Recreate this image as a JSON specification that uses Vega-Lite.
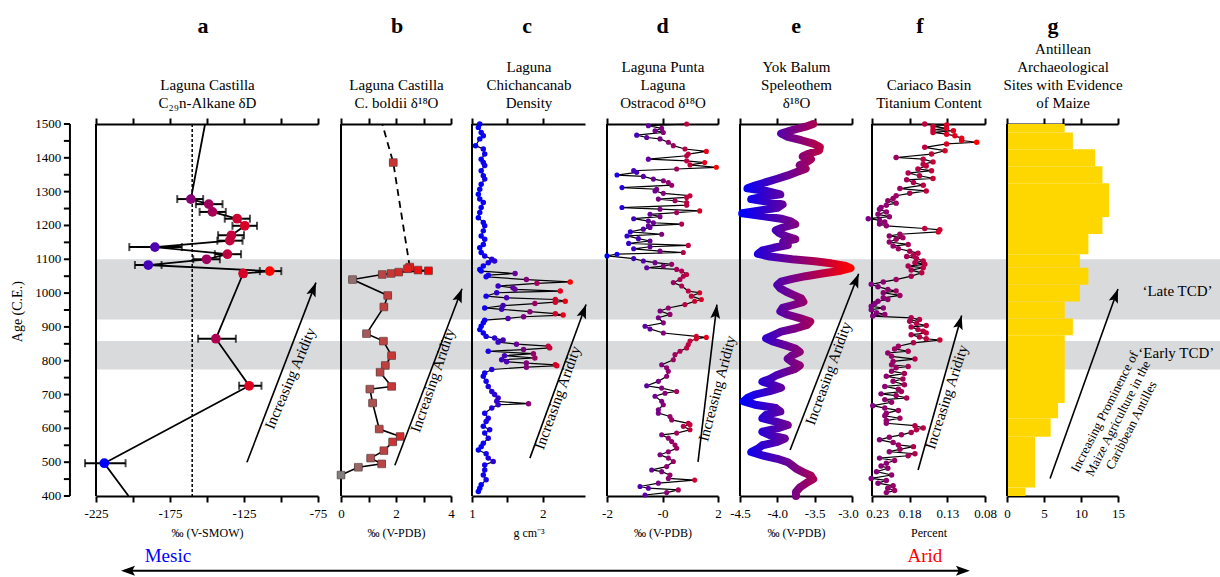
{
"$schema": "https://vega.github.io/schema/vega-lite/v6.json",
"width": 1124,
"height": 372,
"autosize": {"type": "none"},
"padding": {"left": 96, "top": 124, "right": 0, "bottom": 81},
"background": "white",
"config": {
  "view": {"stroke": null},
  "font": "Liberation Serif",
  "axis": {"grid": false, "domainColor": "black", "domainWidth": 2, "tickColor": "black", "tickWidth": 2, "tickSize": 6, "labelColor": "black", "labelFontSize": 13, "labelFlush": false, "labelOverlap": false, "titleColor": "black", "titleFontWeight": "normal", "labelFont": "Liberation Serif", "titleFont": "Liberation Serif"}
},
"datasets": {
  "one": [{}],
  "yt": [{"age":400},{"age":450},{"age":500},{"age":550},{"age":600},{"age":650},{"age":700},{"age":750},{"age":800},{"age":850},{"age":900},{"age":950},{"age":1000},{"age":1050},{"age":1100},{"age":1150},{"age":1200},{"age":1250},{"age":1300},{"age":1350},{"age":1400},{"age":1450},{"age":1500}],
  "bands": [{"age": 774, "age2": 858}, {"age": 922, "age2": 1100}],
  "a": [
    {"age":1500,"v":-151.3},
    {"age":1278,"v":-160.9,"lo":-170.1,"hi":-152.6},
    {"age":1263,"v":-148.8,"lo":-157.5,"hi":-139.5},
    {"age":1240,"v":-146.3,"lo":-155.0,"hi":-137.3},
    {"age":1220,"v":-129.6,"lo":-138.0,"hi":-121.0},
    {"age":1199,"v":-124.5,"lo":-132.8,"hi":-116.2},
    {"age":1171,"v":-133.5,"lo":-142.5,"hi":-125.0},
    {"age":1155,"v":-134.6,"lo":-143.0,"hi":-126.0},
    {"age":1136,"v":-185.2,"lo":-202.5,"hi":-167.0},
    {"age":1115,"v":-136.2,"lo":-144.7,"hi":-127.0},
    {"age":1100,"v":-150.3,"lo":-159.3,"hi":-141.3},
    {"age":1083,"v":-189.7,"lo":-198.7,"hi":-180.7},
    {"age":1065,"v":-107.6,"lo":-114.3,"hi":-99.8},
    {"age":1058,"v":-125.6,"lo":-127.5,"hi":-123.7},
    {"age":865,"v":-144.0,"lo":-156.0,"hi":-130.5},
    {"age":726,"v":-121.5,"lo":-128.3,"hi":-113.2},
    {"age":497,"v":-219.4,"lo":-232.4,"hi":-205.0},
    {"age":400,"v":-203.0}
  ],
  "b_dash": [{"age":1500,"v":1.5},{"age":1386,"v":1.9},{"age":1077,"v":2.5}],
  "b": [
    {"age":1386,"v":1.9,"lo":1.78,"hi":2.02},
    {"age":1077,"v":2.5,"lo":2.38,"hi":2.62},
    {"age":1072,"v":2.42,"lo":2.3,"hi":2.54},
    {"age":1068,"v":2.8,"lo":2.68,"hi":2.92},
    {"age":1066,"v":3.18,"lo":3.06,"hi":3.3},
    {"age":1062,"v":2.1,"lo":1.98,"hi":2.22},
    {"age":1058,"v":1.82,"lo":1.7,"hi":1.94},
    {"age":1055,"v":1.5,"lo":1.38,"hi":1.62},
    {"age":1040,"v":0.42,"lo":0.3,"hi":0.54},
    {"age":993,"v":1.7,"lo":1.58,"hi":1.82},
    {"age":959,"v":1.56,"lo":1.44,"hi":1.68},
    {"age":880,"v":0.93,"lo":0.81,"hi":1.05},
    {"age":858,"v":1.54,"lo":1.42,"hi":1.66},
    {"age":815,"v":1.84,"lo":1.72,"hi":1.96},
    {"age":786,"v":1.61,"lo":1.49,"hi":1.73},
    {"age":766,"v":1.42,"lo":1.3,"hi":1.54},
    {"age":724,"v":1.84,"lo":1.72,"hi":1.96},
    {"age":716,"v":1.05,"lo":0.93,"hi":1.17},
    {"age":675,"v":1.15,"lo":1.03,"hi":1.27},
    {"age":598,"v":1.39,"lo":1.27,"hi":1.51},
    {"age":576,"v":2.15,"lo":2.03,"hi":2.27},
    {"age":560,"v":1.88,"lo":1.76,"hi":2.0},
    {"age":534,"v":1.56,"lo":1.44,"hi":1.68},
    {"age":512,"v":1.08,"lo":0.96,"hi":1.2},
    {"age":495,"v":1.48,"lo":1.36,"hi":1.6},
    {"age":485,"v":0.63,"lo":0.51,"hi":0.75},
    {"age":462,"v":0.0,"lo":-0.1,"hi":0.12}
  ],
  "c": [
    {"age":1500,"v":1.11},{"age":1490,"v":1.09},{"age":1475,"v":1.13},{"age":1465,"v":1.16},{"age":1456,"v":1.11},{"age":1436,"v":1.05},{"age":1426,"v":1.16},{"age":1411,"v":1.18},{"age":1396,"v":1.13},{"age":1386,"v":1.16},{"age":1377,"v":1.18},{"age":1362,"v":1.13},{"age":1347,"v":1.16},{"age":1337,"v":1.18},{"age":1322,"v":1.13},{"age":1307,"v":1.11},{"age":1292,"v":1.09},{"age":1278,"v":1.11},{"age":1268,"v":1.16},{"age":1253,"v":1.13},{"age":1238,"v":1.11},{"age":1223,"v":1.09},{"age":1209,"v":1.16},{"age":1199,"v":1.18},{"age":1184,"v":1.16},{"age":1169,"v":1.13},{"age":1159,"v":1.18},{"age":1144,"v":1.16},{"age":1134,"v":1.11},{"age":1120,"v":1.13},{"age":1110,"v":1.18},
    {"age":1100,"v":1.28},{"age":1095,"v":1.32},{"age":1090,"v":1.23},{"age":1080,"v":1.16},{"age":1070,"v":1.11},{"age":1065,"v":1.13},{"age":1058,"v":1.61},{"age":1053,"v":1.23},{"age":1048,"v":1.2},{"age":1040,"v":1.77},{"age":1033,"v":2.39},{"age":1029,"v":1.92},{"age":1021,"v":1.37},{"age":1016,"v":1.58},{"age":1011,"v":1.61},{"age":1006,"v":2.25},{"age":1001,"v":1.35},{"age":991,"v":1.2},{"age":986,"v":1.49},{"age":981,"v":2.18},{"age":976,"v":2.32},{"age":973,"v":2.18},{"age":969,"v":1.89},{"age":963,"v":1.44},{"age":956,"v":1.18},{"age":952,"v":1.42},{"age":945,"v":1.82},{"age":939,"v":2.18},{"age":935,"v":2.29},{"age":930,"v":1.73},{"age":925,"v":1.51},{"age":920,"v":1.18},{"age":912,"v":1.16},{"age":902,"v":1.13},{"age":892,"v":1.11},{"age":882,"v":1.16},{"age":872,"v":1.2},{"age":867,"v":1.32},
    {"age":861,"v":1.44},{"age":855,"v":1.37},{"age":849,"v":1.63},{"age":843,"v":2.08},{"age":838,"v":2.1},{"age":833,"v":1.73},{"age":828,"v":1.23},{"age":821,"v":1.87},{"age":815,"v":1.46},{"age":808,"v":1.89},{"age":803,"v":1.42},{"age":797,"v":1.49},{"age":793,"v":1.77},{"age":788,"v":2.18},{"age":785,"v":2.2},{"age":781,"v":1.77},{"age":774,"v":1.28},{"age":764,"v":1.18},
    {"age":754,"v":1.16},{"age":739,"v":1.2},{"age":724,"v":1.23},{"age":709,"v":1.28},{"age":700,"v":1.32},{"age":690,"v":1.37},{"age":680,"v":1.35},{"age":673,"v":1.8},{"age":670,"v":1.37},{"age":660,"v":1.28},{"age":645,"v":1.18},{"age":630,"v":1.23},{"age":620,"v":1.2},{"age":606,"v":1.16},{"age":596,"v":1.25},{"age":586,"v":1.18},{"age":571,"v":1.23},{"age":556,"v":1.16},{"age":546,"v":1.13},{"age":536,"v":1.09},{"age":525,"v":1.2},{"age":512,"v":1.23},{"age":502,"v":1.3},{"age":492,"v":1.18},{"age":477,"v":1.18},{"age":462,"v":1.16},{"age":448,"v":1.2},{"age":433,"v":1.13},{"age":423,"v":1.11},{"age":413,"v":1.09}
  ],
  "d": [
    {"age":1500,"v":0.87},{"age":1495,"v":-0.51},{"age":1487,"v":-0.03},{"age":1480,"v":-0.27},{"age":1475,"v":0.03},{"age":1467,"v":-0.93},{"age":1460,"v":-0.57},{"age":1456,"v":-0.09},{"age":1446,"v":0.21},{"age":1436,"v":0.39},{"age":1426,"v":0.81},{"age":1419,"v":1.58},{"age":1411,"v":0.93},{"age":1406,"v":0.87},{"age":1396,"v":-0.51},{"age":1391,"v":0.87},{"age":1386,"v":1.52},{"age":1379,"v":0.99},{"age":1372,"v":1.94},{"age":1367,"v":0.51},{"age":1362,"v":-1.04},{"age":1357,"v":-0.93},{"age":1349,"v":-1.64},{"age":1345,"v":-0.69},{"age":1337,"v":-0.33},{"age":1332,"v":0.03},{"age":1327,"v":0.21},{"age":1319,"v":0.33},{"age":1312,"v":-1.46},{"age":1307,"v":-0.21},{"age":1302,"v":-0.27},{"age":1295,"v":0.03},{"age":1288,"v":0.99},{"age":1283,"v":0.87},{"age":1278,"v":-0.15},{"age":1273,"v":0.45},{"age":1268,"v":0.87},{"age":1260,"v":0.87},{"age":1253,"v":-1.46},{"age":1248,"v":-0.09},{"age":1243,"v":1.34},{"age":1238,"v":0.51},{"age":1233,"v":-0.45},{"age":1226,"v":-0.09},{"age":1220,"v":-1.04},{"age":1213,"v":-0.51},{"age":1208,"v":-0.33},{"age":1204,"v":0.69},{"age":1199,"v":-0.51},{"age":1194,"v":-0.45},{"age":1189,"v":-0.69},{"age":1181,"v":-1.16},{"age":1174,"v":-0.03},{"age":1169,"v":-1.28},{"age":1161,"v":-0.87},{"age":1154,"v":-0.45},{"age":1147,"v":-1.22},{"age":1141,"v":0.93},{"age":1137,"v":-0.45},{"age":1131,"v":-1.04},{"age":1124,"v":-0.09},{"age":1120,"v":0.75},{"age":1115,"v":-1.64},{"age":1110,"v":-2.0},{"age":1102,"v":-1.04},{"age":1095,"v":-0.69},{"age":1090,"v":-0.27},{"age":1085,"v":0.33},{"age":1080,"v":0.03},{"age":1075,"v":-0.57},{"age":1070,"v":0.51},{"age":1065,"v":0.69},{"age":1055,"v":0.87},{"age":1050,"v":0.75},{"age":1040,"v":0.63},{"age":1031,"v":0.39},{"age":1021,"v":0.69},{"age":1006,"v":0.93},{"age":1001,"v":1.34},{"age":991,"v":1.04},{"age":981,"v":1.4},{"age":976,"v":1.16},{"age":966,"v":0.81},{"age":956,"v":0.21},{"age":947,"v":-0.09},{"age":937,"v":0.27},{"age":927,"v":-0.15},{"age":912,"v":0.03},{"age":902,"v":-0.63},{"age":894,"v":-0.45},{"age":882,"v":0.03},{"age":872,"v":1.22},{"age":869,"v":1.58},{"age":865,"v":1.22},{"age":858,"v":0.99},{"age":848,"v":0.93},{"age":838,"v":0.87},{"age":828,"v":0.63},{"age":818,"v":0.45},{"age":803,"v":0.39},{"age":788,"v":-0.03},{"age":779,"v":0.15},{"age":769,"v":0.21},{"age":754,"v":0.15},{"age":739,"v":-0.15},{"age":726,"v":-0.57},{"age":719,"v":-0.03},{"age":709,"v":0.51},{"age":704,"v":0.09},{"age":695,"v":-0.27},{"age":680,"v":-0.03},{"age":670,"v":0.03},{"age":655,"v":-0.15},{"age":645,"v":-0.15},{"age":635,"v":0.27},{"age":625,"v":0.33},{"age":615,"v":0.93},{"age":611,"v":0.99},{"age":606,"v":0.75},{"age":596,"v":0.99},{"age":586,"v":0.51},{"age":581,"v":-0.03},{"age":571,"v":0.21},{"age":561,"v":0.33},{"age":551,"v":0.45},{"age":541,"v":0.51},{"age":531,"v":0.21},{"age":522,"v":-0.09},{"age":512,"v":0.21},{"age":502,"v":0.39},{"age":487,"v":0.15},{"age":477,"v":-0.39},{"age":472,"v":-0.03},{"age":462,"v":0.27},{"age":452,"v":0.21},{"age":447,"v":1.16},{"age":438,"v":-0.15},{"age":428,"v":-0.81},{"age":423,"v":-0.51},{"age":418,"v":0.57},{"age":410,"v":0.15},{"age":403,"v":-0.63}
  ],
  "e": [
    {"age":1500,"v":-3.52},{"age":1492,"v":-3.62},{"age":1482,"v":-3.8},{"age":1472,"v":-3.95},{"age":1462,"v":-3.86},{"age":1452,"v":-3.68},{"age":1442,"v":-3.52},{"age":1432,"v":-3.43},{"age":1422,"v":-3.44},{"age":1412,"v":-3.58},{"age":1404,"v":-3.66},{"age":1396,"v":-3.55},{"age":1388,"v":-3.6},{"age":1378,"v":-3.7},{"age":1368,"v":-3.62},{"age":1358,"v":-3.74},{"age":1348,"v":-3.86},{"age":1338,"v":-4.0},{"age":1328,"v":-4.15},{"age":1318,"v":-4.3},{"age":1310,"v":-4.4},{"age":1302,"v":-4.15},{"age":1292,"v":-3.96},{"age":1284,"v":-4.2},{"age":1278,"v":-4.35},{"age":1270,"v":-4.12},{"age":1262,"v":-3.93},{"age":1252,"v":-4.0},{"age":1244,"v":-4.25},{"age":1236,"v":-4.47},{"age":1228,"v":-4.2},{"age":1220,"v":-3.95},{"age":1212,"v":-3.82},{"age":1204,"v":-3.76},{"age":1196,"v":-3.9},{"age":1186,"v":-4.02},{"age":1178,"v":-3.98},{"age":1168,"v":-3.88},{"age":1160,"v":-3.76},{"age":1152,"v":-3.92},{"age":1142,"v":-3.86},{"age":1134,"v":-4.05},{"age":1126,"v":-4.2},{"age":1116,"v":-4.26},{"age":1108,"v":-4.1},{"age":1100,"v":-3.8},{"age":1094,"v":-3.5},{"age":1088,"v":-3.28},{"age":1080,"v":-3.08},{"age":1074,"v":-3.02},{"age":1066,"v":-3.15},{"age":1058,"v":-3.4},{"age":1050,"v":-3.62},{"age":1042,"v":-3.8},{"age":1034,"v":-3.95},{"age":1024,"v":-4.0},{"age":1014,"v":-3.96},{"age":1004,"v":-3.88},{"age":994,"v":-3.78},{"age":984,"v":-3.68},{"age":974,"v":-3.65},{"age":964,"v":-3.8},{"age":956,"v":-3.93},{"age":946,"v":-3.96},{"age":936,"v":-3.86},{"age":926,"v":-3.7},{"age":916,"v":-3.56},{"age":906,"v":-3.6},{"age":896,"v":-3.75},{"age":886,"v":-3.95},{"age":876,"v":-4.05},{"age":866,"v":-4.15},{"age":856,"v":-4.05},{"age":846,"v":-3.9},{"age":836,"v":-3.76},{"age":826,"v":-3.7},{"age":816,"v":-3.8},{"age":806,"v":-3.86},{"age":796,"v":-3.8},{"age":786,"v":-3.7},{"age":776,"v":-3.76},{"age":766,"v":-3.9},{"age":756,"v":-4.02},{"age":746,"v":-4.1},{"age":738,"v":-4.2},{"age":730,"v":-4.08},{"age":720,"v":-3.95},{"age":710,"v":-4.1},{"age":700,"v":-4.3},{"age":690,"v":-4.4},{"age":680,"v":-4.45},{"age":670,"v":-4.3},{"age":660,"v":-4.02},{"age":650,"v":-3.96},{"age":640,"v":-4.15},{"age":630,"v":-4.2},{"age":620,"v":-4.02},{"age":610,"v":-3.86},{"age":600,"v":-4.0},{"age":590,"v":-4.2},{"age":580,"v":-4.1},{"age":570,"v":-3.9},{"age":560,"v":-4.0},{"age":550,"v":-4.2},{"age":540,"v":-4.26},{"age":530,"v":-4.35},{"age":520,"v":-4.2},{"age":510,"v":-4.0},{"age":500,"v":-3.86},{"age":490,"v":-3.8},{"age":480,"v":-3.74},{"age":470,"v":-3.65},{"age":460,"v":-3.55},{"age":450,"v":-3.52},{"age":440,"v":-3.6},{"age":425,"v":-3.7},{"age":412,"v":-3.75},{"age":400,"v":-3.75}
  ],
  "f": [
    {"age":1500,"v":0.160},{"age":1497,"v":0.131},{"age":1493,"v":0.149},{"age":1487,"v":0.131},{"age":1483,"v":0.149},{"age":1480,"v":0.122},{"age":1475,"v":0.149},{"age":1470,"v":0.131},{"age":1465,"v":0.120},{"age":1458,"v":0.111},{"age":1451,"v":0.111},{"age":1446,"v":0.091},{"age":1441,"v":0.131},{"age":1431,"v":0.160},{"age":1421,"v":0.133},{"age":1411,"v":0.151},{"age":1401,"v":0.198},{"age":1396,"v":0.162},{"age":1388,"v":0.149},{"age":1381,"v":0.162},{"age":1376,"v":0.158},{"age":1367,"v":0.169},{"age":1362,"v":0.151},{"age":1355,"v":0.182},{"age":1347,"v":0.167},{"age":1339,"v":0.149},{"age":1335,"v":0.184},{"age":1327,"v":0.175},{"age":1319,"v":0.162},{"age":1309,"v":0.193},{"age":1302,"v":0.158},{"age":1295,"v":0.180},{"age":1288,"v":0.198},{"age":1280,"v":0.202},{"age":1273,"v":0.209},{"age":1266,"v":0.198},{"age":1260,"v":0.211},{"age":1253,"v":0.218},{"age":1248,"v":0.220},{"age":1240,"v":0.211},{"age":1233,"v":0.222},{"age":1226,"v":0.207},{"age":1220,"v":0.235},{"age":1216,"v":0.220},{"age":1210,"v":0.213},{"age":1204,"v":0.220},{"age":1199,"v":0.211},{"age":1191,"v":0.160},{"age":1187,"v":0.140},{"age":1181,"v":0.142},{"age":1174,"v":0.193},{"age":1169,"v":0.207},{"age":1164,"v":0.189},{"age":1159,"v":0.198},{"age":1151,"v":0.207},{"age":1144,"v":0.182},{"age":1139,"v":0.202},{"age":1131,"v":0.195},{"age":1124,"v":0.180},{"age":1118,"v":0.169},{"age":1112,"v":0.175},{"age":1108,"v":0.184},{"age":1102,"v":0.171},{"age":1095,"v":0.162},{"age":1090,"v":0.173},{"age":1085,"v":0.160},{"age":1080,"v":0.182},{"age":1075,"v":0.162},{"age":1068,"v":0.178},{"age":1060,"v":0.164},{"age":1050,"v":0.178},{"age":1040,"v":0.198},{"age":1033,"v":0.215},{"age":1026,"v":0.231},{"age":1019,"v":0.222},{"age":1011,"v":0.209},{"age":1006,"v":0.198},{"age":1001,"v":0.215},{"age":993,"v":0.193},{"age":986,"v":0.215},{"age":981,"v":0.209},{"age":976,"v":0.222},{"age":969,"v":0.226},{"age":961,"v":0.231},{"age":956,"v":0.215},{"age":951,"v":0.231},{"age":942,"v":0.224},{"age":937,"v":0.213},{"age":932,"v":0.229},{"age":927,"v":0.178},{"age":922,"v":0.167},{"age":917,"v":0.180},{"age":910,"v":0.171},{"age":904,"v":0.158},{"age":900,"v":0.178},{"age":892,"v":0.169},{"age":887,"v":0.162},{"age":882,"v":0.158},{"age":877,"v":0.178},{"age":870,"v":0.167},{"age":865,"v":0.158},{"age":861,"v":0.140},{"age":853,"v":0.175},{"age":843,"v":0.195},{"age":835,"v":0.200},{"age":828,"v":0.182},{"age":823,"v":0.209},{"age":813,"v":0.204},{"age":805,"v":0.173},{"age":798,"v":0.202},{"age":788,"v":0.204},{"age":783,"v":0.182},{"age":779,"v":0.198},{"age":769,"v":0.204},{"age":762,"v":0.187},{"age":754,"v":0.211},{"age":746,"v":0.189},{"age":739,"v":0.202},{"age":729,"v":0.187},{"age":724,"v":0.213},{"age":716,"v":0.195},{"age":709,"v":0.191},{"age":702,"v":0.218},{"age":697,"v":0.198},{"age":690,"v":0.184},{"age":685,"v":0.213},{"age":677,"v":0.204},{"age":667,"v":0.229},{"age":660,"v":0.213},{"age":653,"v":0.195},{"age":645,"v":0.211},{"age":637,"v":0.213},{"age":630,"v":0.193},{"age":623,"v":0.211},{"age":615,"v":0.211},{"age":608,"v":0.173},{"age":601,"v":0.162},{"age":596,"v":0.171},{"age":588,"v":0.178},{"age":581,"v":0.191},{"age":574,"v":0.207},{"age":566,"v":0.220},{"age":558,"v":0.202},{"age":551,"v":0.195},{"age":546,"v":0.175},{"age":538,"v":0.193},{"age":531,"v":0.207},{"age":525,"v":0.173},{"age":519,"v":0.182},{"age":512,"v":0.220},{"age":505,"v":0.200},{"age":497,"v":0.211},{"age":489,"v":0.218},{"age":482,"v":0.209},{"age":472,"v":0.224},{"age":462,"v":0.204},{"age":452,"v":0.231},{"age":446,"v":0.211},{"age":438,"v":0.222},{"age":430,"v":0.202},{"age":423,"v":0.209},{"age":416,"v":0.200},{"age":410,"v":0.211}
  ],
  "g": [
    {"age":1475,"age2":1500,"n":7.8},{"age":1425,"age2":1475,"n":8.9},{"age":1375,"age2":1425,"n":11.9},{"age":1325,"age2":1375,"n":12.9},{"age":1225,"age2":1325,"n":13.8},{"age":1175,"age2":1225,"n":12.9},{"age":1115,"age2":1175,"n":11.0},{"age":1075,"age2":1115,"n":9.85},{"age":1025,"age2":1075,"n":11.0},{"age":975,"age2":1025,"n":9.85},{"age":925,"age2":975,"n":7.8},{"age":875,"age2":925,"n":8.9},{"age":675,"age2":875,"n":7.8},{"age":630,"age2":675,"n":6.9},{"age":575,"age2":630,"n":5.9},{"age":425,"age2":575,"n":3.8},{"age":400,"age2":425,"n":2.5}
  ]
},
"layer": [
  {
    "data": {"name": "bands"},
    "mark": {"type": "rect", "color": "#d9dadc"},
    "encoding": {
      "y": {"field": "age", "type": "quantitative", "scale": {"domain": [400, 1500], "nice": false, "zero": false}, "axis": null},
      "y2": {"field": "age2"}
    }
  },
  {
    "resolve": {"axis": {"x": "independent"}},
    "layer": [
      {"data": {"name": "one"}, "mark": {"type": "rule", "color": "black", "strokeWidth": 2},
       "encoding": {"x": {"datum": -225, "type": "quantitative", "scale": {"domain": [-225, -75], "range": [0, 222], "nice": false, "zero": false},
         "axis": {"orient": "top", "values": [-225,-200,-175,-150,-125,-100,-75], "labels": false, "title": ["Laguna Castilla", "C₂₉n-Alkane δD"], "titleFontSize": 15, "titleLineHeight": 18, "titlePadding": 7}}}},
      {"data": {"name": "one"}, "mark": {"type": "rule", "color": "black", "strokeWidth": 2},
       "encoding": {
         "x": {"datum": -242.6, "type": "quantitative", "scale": {"domain": [-225, -75], "range": [0, 222], "nice": false, "zero": false}, "axis": null},
         "y": {"datum": 400, "type": "quantitative", "scale": {"domain": [400, 1500], "nice": false, "zero": false}, "axis": null},
         "y2": {"datum": 1500}}},
      {"data": {"name": "yt"}, "mark": {"type": "rule", "color": "black", "strokeWidth": 2},
       "encoding": {
         "x": {"datum": -242.6, "type": "quantitative", "scale": {"domain": [-225, -75], "range": [0, 222], "nice": false, "zero": false}, "axis": null},
         "x2": {"datum": -246.7},
         "y": {"field": "age", "type": "quantitative", "scale": {"domain": [400, 1500], "nice": false, "zero": false}, "axis": null}}},
      {"data": {"name": "yt"}, "transform": [{"filter": "datum.age % 100 == 0"}],
       "mark": {"type": "text", "fontSize": 13, "align": "right", "baseline": "middle", "color": "black"},
       "encoding": {
         "x": {"datum": -248.4, "type": "quantitative", "scale": {"domain": [-225, -75], "range": [0, 222], "nice": false, "zero": false}, "axis": null},
         "y": {"field": "age", "type": "quantitative", "scale": {"domain": [400, 1500], "nice": false, "zero": false}, "axis": null},
         "text": {"field": "age", "type": "quantitative", "format": "d"}}},
      {"data": {"name": "one"}, "mark": {"type": "text", "text": "Age (C.E.)", "fontSize": 14, "angle": 270, "align": "center", "baseline": "middle", "color": "black"},
       "encoding": {
         "x": {"datum": -277.7, "type": "quantitative", "scale": {"domain": [-225, -75], "range": [0, 222], "nice": false, "zero": false}, "axis": null},
         "y": {"datum": 945, "type": "quantitative", "scale": {"domain": [400, 1500], "nice": false, "zero": false}, "axis": null}}},
      {"data": {"name": "one"}, "mark": {"type": "rule", "color": "black", "strokeWidth": 1.5, "strokeDash": [3, 2]},
       "encoding": {"x": {"datum": -160, "type": "quantitative", "scale": {"domain": [-225, -75], "range": [0, 222], "nice": false, "zero": false}, "axis": null}}},
      {"data": {"name": "a"},
       "mark": {"type": "line", "color": "black", "strokeWidth": 1.8},
       "encoding": {
         "x": {"field": "v", "type": "quantitative", "scale": {"domain": [-225, -75], "range": [0, 222], "nice": false, "zero": false},
           "axis": {"orient": "bottom", "values": [-225,-200,-175,-150,-125,-100,-75], "labelExpr": "(datum.value + 225) % 50 == 0 ? '-' + format(abs(datum.value), 'd') : ''", "labelPadding": 5, "title": "‰ (V-SMOW)", "titleFontSize": 12, "titlePadding": 7}},
         "y": {"field": "age", "type": "quantitative", "scale": {"domain": [400, 1500], "nice": false, "zero": false}, "axis": null},
         "order": {"field": "age", "type": "quantitative"}}},
      {"data": {"name": "a"},
       "transform": [{"filter": "isValid(datum.lo)"}],
       "mark": {"type": "errorbar", "ticks": {"size": 8, "thickness": 2, "color": "black"}, "rule": {"strokeWidth": 2, "color": "black"}},
       "encoding": {
         "x": {"field": "lo", "type": "quantitative", "scale": {"domain": [-225, -75], "range": [0, 222], "nice": false, "zero": false}, "axis": null},
         "x2": {"field": "hi"},
         "y": {"field": "age", "type": "quantitative", "scale": {"domain": [400, 1500], "nice": false, "zero": false}, "axis": null}}},
      {"data": {"name": "a"},
       "transform": [{"filter": "isValid(datum.lo)"}],
       "mark": {"type": "circle", "size": 95, "opacity": 1},
       "encoding": {
         "x": {"field": "v", "type": "quantitative", "scale": {"domain": [-225, -75], "range": [0, 222], "nice": false, "zero": false}, "axis": null},
         "y": {"field": "age", "type": "quantitative", "scale": {"domain": [400, 1500], "nice": false, "zero": false}, "axis": null},
         "color": {"field": "v", "type": "quantitative", "scale": {"domain": [-220, -108], "range": ["#0000ff", "#ff0000"], "interpolate": "rgb", "clamp": true}, "legend": null}}},
      {"data": {"name": "one"}, "mark": {"type": "rule", "color": "black", "strokeWidth": 1.6},
       "encoding": {
         "x": {"datum": -123.0, "type": "quantitative", "scale": {"domain": [-225, -75], "range": [0, 222], "nice": false, "zero": false}, "axis": null},
         "y": {"datum": 500, "type": "quantitative", "scale": {"domain": [400, 1500], "nice": false, "zero": false}, "axis": null},
         "x2": {"datum": -76.4}, "y2": {"datum": 1031}}},
      {"data": {"name": "one"}, "mark": {"type": "point", "shape": "M0,0L0.7,2L0,1.6L-0.7,2Z", "filled": true, "color": "black", "opacity": 1, "size": 196, "angle": 20.8},
       "encoding": {
         "x": {"datum": -76.4, "type": "quantitative", "scale": {"domain": [-225, -75], "range": [0, 222], "nice": false, "zero": false}, "axis": null},
         "y": {"datum": 1031, "type": "quantitative", "scale": {"domain": [400, 1500], "nice": false, "zero": false}, "axis": null}}},
      {"data": {"name": "one"}, "mark": {"type": "text", "text": "Increasing Aridity", "fontSize": 15, "angle": 293, "align": "center", "baseline": "middle", "color": "black"},
       "encoding": {
         "x": {"datum": -93.9, "type": "quantitative", "scale": {"domain": [-225, -75], "range": [0, 222], "nice": false, "zero": false}, "axis": null},
         "y": {"datum": 748, "type": "quantitative", "scale": {"domain": [400, 1500], "nice": false, "zero": false}, "axis": null}}},
      {"data": {"name": "one"}, "mark": {"type": "text", "text": "a", "fontSize": 22, "fontWeight": "bold", "align": "center", "baseline": "alphabetic", "color": "black"},
       "encoding": {
         "x": {"datum": -152.7, "type": "quantitative", "scale": {"domain": [-225, -75], "range": [0, 222], "nice": false, "zero": false}, "axis": null},
         "y": {"datum": 1768, "type": "quantitative", "scale": {"domain": [400, 1500], "nice": false, "zero": false}, "axis": null}}},
      {"data": {"name": "one"}, "mark": {"type": "rule", "color": "black", "strokeWidth": 2},
       "encoding": {
         "x": {"datum": -206, "type": "quantitative", "scale": {"domain": [-225, -75], "range": [0, 222], "nice": false, "zero": false}, "axis": null},
         "y": {"datum": 179, "type": "quantitative", "scale": {"domain": [400, 1500], "nice": false, "zero": false}, "axis": null},
         "x2": {"datum": 363}}},
      {"data": {"name": "one"}, "mark": {"type": "point", "shape": "M0,0L0.7,2L0,1.6L-0.7,2Z", "filled": true, "color": "black", "opacity": 1, "size": 196, "angle": 270},
       "encoding": {
         "x": {"datum": -208.1, "type": "quantitative", "scale": {"domain": [-225, -75], "range": [0, 222], "nice": false, "zero": false}, "axis": null},
         "y": {"datum": 179, "type": "quantitative", "scale": {"domain": [400, 1500], "nice": false, "zero": false}, "axis": null}}},
      {"data": {"name": "one"}, "mark": {"type": "point", "shape": "M0,0L0.7,2L0,1.6L-0.7,2Z", "filled": true, "color": "black", "opacity": 1, "size": 196, "angle": 90},
       "encoding": {
         "x": {"datum": 365.5, "type": "quantitative", "scale": {"domain": [-225, -75], "range": [0, 222], "nice": false, "zero": false}, "axis": null},
         "y": {"datum": 179, "type": "quantitative", "scale": {"domain": [400, 1500], "nice": false, "zero": false}, "axis": null}}},
      {"data": {"name": "one"}, "mark": {"type": "text", "text": "Mesic", "fontSize": 19, "align": "center", "baseline": "middle", "color": "#0000ff"},
       "encoding": {
         "x": {"datum": -176.4, "type": "quantitative", "scale": {"domain": [-225, -75], "range": [0, 222], "nice": false, "zero": false}, "axis": null},
         "y": {"datum": 223, "type": "quantitative", "scale": {"domain": [400, 1500], "nice": false, "zero": false}, "axis": null}}},
      {"data": {"name": "one"}, "mark": {"type": "text", "text": "Arid", "fontSize": 19, "align": "center", "baseline": "middle", "color": "#ff0000"},
       "encoding": {
         "x": {"datum": 335.1, "type": "quantitative", "scale": {"domain": [-225, -75], "range": [0, 222], "nice": false, "zero": false}, "axis": null},
         "y": {"datum": 223, "type": "quantitative", "scale": {"domain": [400, 1500], "nice": false, "zero": false}, "axis": null}}}
    ]
  },
  {
    "resolve": {"axis": {"x": "independent"}},
    "layer": [
      {"data": {"name": "one"}, "mark": {"type": "rule", "color": "black", "strokeWidth": 2},
       "encoding": {"x": {"datum": 0, "type": "quantitative", "scale": {"domain": [0, 4], "range": [245, 355], "nice": false, "zero": false},
         "axis": {"orient": "top", "values": [0,1,2,3,4], "labels": false, "title": ["Laguna Castilla", "C. boldii δ¹⁸O"], "titleFontSize": 15, "titleLineHeight": 18, "titlePadding": 7}}}},
      {"data": {"name": "b_dash"},
       "mark": {"type": "line", "color": "black", "strokeWidth": 1.8, "strokeDash": [7, 5]},
       "encoding": {
         "x": {"field": "v", "type": "quantitative", "scale": {"domain": [0, 4], "range": [245, 355], "nice": false, "zero": false}, "axis": null},
         "y": {"field": "age", "type": "quantitative", "scale": {"domain": [400, 1500], "nice": false, "zero": false}, "axis": null},
         "order": {"field": "age", "type": "quantitative"}}},
      {"data": {"name": "b"},
       "transform": [{"filter": "datum.age < 1300"}],
       "mark": {"type": "line", "color": "black", "strokeWidth": 1.6},
       "encoding": {
         "x": {"field": "v", "type": "quantitative", "scale": {"domain": [0, 4], "range": [245, 355], "nice": false, "zero": false},
           "axis": {"orient": "bottom", "values": [0,1,2,3,4], "labelExpr": "datum.value % 2 == 0 ? format(datum.value, 'd') : ''", "labelPadding": 5, "title": "‰ (V-PDB)", "titleFontSize": 12, "titlePadding": 7}},
         "y": {"field": "age", "type": "quantitative", "scale": {"domain": [400, 1500], "nice": false, "zero": false}, "axis": null},
         "order": {"field": "age", "type": "quantitative"}}},
      {"data": {"name": "b"},
       "mark": {"type": "errorbar", "ticks": {"size": 6, "thickness": 1.5, "color": "black"}, "rule": {"strokeWidth": 1.5, "color": "black"}},
       "encoding": {
         "x": {"field": "lo", "type": "quantitative", "scale": {"domain": [0, 4], "range": [245, 355], "nice": false, "zero": false}, "axis": null},
         "x2": {"field": "hi"},
         "y": {"field": "age", "type": "quantitative", "scale": {"domain": [400, 1500], "nice": false, "zero": false}, "axis": null}}},
      {"data": {"name": "b"},
       "mark": {"type": "square", "size": 60, "opacity": 1, "stroke": "#5a4040", "strokeWidth": 0.6},
       "encoding": {
         "x": {"field": "v", "type": "quantitative", "scale": {"domain": [0, 4], "range": [245, 355], "nice": false, "zero": false}, "axis": null},
         "y": {"field": "age", "type": "quantitative", "scale": {"domain": [400, 1500], "nice": false, "zero": false}, "axis": null},
         "color": {"field": "v", "type": "quantitative", "scale": {"domain": [0, 3.2], "range": ["#7f7f7f", "#ff0000"], "interpolate": "rgb", "clamp": true}, "legend": null}}},
      {"data": {"name": "one"}, "mark": {"type": "rule", "color": "black", "strokeWidth": 1.6},
       "encoding": {
         "x": {"datum": 1.96, "type": "quantitative", "scale": {"domain": [0, 4], "range": [245, 355], "nice": false, "zero": false}, "axis": null},
         "y": {"datum": 491, "type": "quantitative", "scale": {"domain": [400, 1500], "nice": false, "zero": false}, "axis": null},
         "x2": {"datum": 4.4}, "y2": {"datum": 1013}}},
      {"data": {"name": "one"}, "mark": {"type": "point", "shape": "M0,0L0.7,2L0,1.6L-0.7,2Z", "filled": true, "color": "black", "opacity": 1, "size": 196, "angle": 20.7},
       "encoding": {
         "x": {"datum": 4.4, "type": "quantitative", "scale": {"domain": [0, 4], "range": [245, 355], "nice": false, "zero": false}, "axis": null},
         "y": {"datum": 1013, "type": "quantitative", "scale": {"domain": [400, 1500], "nice": false, "zero": false}, "axis": null}}},
      {"data": {"name": "one"}, "mark": {"type": "text", "text": "Increasing Aridity", "fontSize": 15, "angle": 289, "align": "center", "baseline": "middle", "color": "black"},
       "encoding": {
         "x": {"datum": 3.33, "type": "quantitative", "scale": {"domain": [0, 4], "range": [245, 355], "nice": false, "zero": false}, "axis": null},
         "y": {"datum": 742, "type": "quantitative", "scale": {"domain": [400, 1500], "nice": false, "zero": false}, "axis": null}}},
      {"data": {"name": "one"}, "mark": {"type": "text", "text": "b", "fontSize": 22, "fontWeight": "bold", "align": "center", "baseline": "alphabetic", "color": "black"},
       "encoding": {
         "x": {"datum": 2.04, "type": "quantitative", "scale": {"domain": [0, 4], "range": [245, 355], "nice": false, "zero": false}, "axis": null},
         "y": {"datum": 1768, "type": "quantitative", "scale": {"domain": [400, 1500], "nice": false, "zero": false}, "axis": null}}}
    ]
  },
  {
    "resolve": {"axis": {"x": "independent"}},
    "layer": [
      {"data": {"name": "one"}, "mark": {"type": "rule", "color": "black", "strokeWidth": 2},
       "encoding": {"x": {"datum": 1, "type": "quantitative", "scale": {"domain": [1, 2.6], "range": [376, 489], "nice": false, "zero": false},
         "axis": {"orient": "top", "values": [1, 1.5, 2], "labels": false, "title": ["Laguna", "Chichancanab", "Density"], "titleFontSize": 15, "titleLineHeight": 18, "titlePadding": 7}}}},
      {"data": {"name": "c"},
       "mark": {"type": "line", "color": "black", "strokeWidth": 1.2},
       "encoding": {
         "x": {"field": "v", "type": "quantitative", "scale": {"domain": [1, 2.6], "range": [376, 489], "nice": false, "zero": false},
           "axis": {"orient": "bottom", "values": [1, 1.5, 2], "labelExpr": "datum.value % 1 == 0 ? format(datum.value, 'd') : ''", "labelPadding": 5, "title": "g cm⁻³", "titleFontSize": 12, "titlePadding": 7}},
         "y": {"field": "age", "type": "quantitative", "scale": {"domain": [400, 1500], "nice": false, "zero": false}, "axis": null},
         "order": {"field": "age", "type": "quantitative"}}},
      {"data": {"name": "c"},
       "mark": {"type": "circle", "size": 30, "opacity": 1},
       "encoding": {
         "x": {"field": "v", "type": "quantitative", "scale": {"domain": [1, 2.6], "range": [376, 489], "nice": false, "zero": false}, "axis": null},
         "y": {"field": "age", "type": "quantitative", "scale": {"domain": [400, 1500], "nice": false, "zero": false}, "axis": null},
         "color": {"field": "v", "type": "quantitative", "scale": {"domain": [1.1, 2.4], "range": ["#0000ff", "#ff0000"], "interpolate": "rgb", "clamp": true}, "legend": null}}},
      {"data": {"name": "one"}, "mark": {"type": "rule", "color": "black", "strokeWidth": 1.6},
       "encoding": {
         "x": {"datum": 1.82, "type": "quantitative", "scale": {"domain": [1, 2.6], "range": [376, 489], "nice": false, "zero": false}, "axis": null},
         "y": {"datum": 512, "type": "quantitative", "scale": {"domain": [400, 1500], "nice": false, "zero": false}, "axis": null},
         "x2": {"datum": 2.615}, "y2": {"datum": 966}}},
      {"data": {"name": "one"}, "mark": {"type": "point", "shape": "M0,0L0.7,2L0,1.6L-0.7,2Z", "filled": true, "color": "black", "opacity": 1, "size": 196, "angle": 19.9},
       "encoding": {
         "x": {"datum": 2.615, "type": "quantitative", "scale": {"domain": [1, 2.6], "range": [376, 489], "nice": false, "zero": false}, "axis": null},
         "y": {"datum": 966, "type": "quantitative", "scale": {"domain": [400, 1500], "nice": false, "zero": false}, "axis": null}}},
      {"data": {"name": "one"}, "mark": {"type": "text", "text": "Increasing Aridity", "fontSize": 15, "angle": 290, "align": "center", "baseline": "middle", "color": "black"},
       "encoding": {
         "x": {"datum": 2.21, "type": "quantitative", "scale": {"domain": [1, 2.6], "range": [376, 489], "nice": false, "zero": false}, "axis": null},
         "y": {"datum": 691, "type": "quantitative", "scale": {"domain": [400, 1500], "nice": false, "zero": false}, "axis": null}}},
      {"data": {"name": "one"}, "mark": {"type": "text", "text": "c", "fontSize": 22, "fontWeight": "bold", "align": "center", "baseline": "alphabetic", "color": "black"},
       "encoding": {
         "x": {"datum": 1.78, "type": "quantitative", "scale": {"domain": [1, 2.6], "range": [376, 489], "nice": false, "zero": false}, "axis": null},
         "y": {"datum": 1768, "type": "quantitative", "scale": {"domain": [400, 1500], "nice": false, "zero": false}, "axis": null}}}
    ]
  },
  {
    "resolve": {"axis": {"x": "independent"}},
    "layer": [
      {"data": {"name": "one"}, "mark": {"type": "rule", "color": "black", "strokeWidth": 2},
       "encoding": {"x": {"datum": -2, "type": "quantitative", "scale": {"domain": [-2, 2], "range": [511, 622], "nice": false, "zero": false},
         "axis": {"orient": "top", "values": [-2, 0, 2], "labels": false, "title": ["Laguna Punta", "Laguna", "Ostracod δ¹⁸O"], "titleFontSize": 15, "titleLineHeight": 18, "titlePadding": 7}}}},
      {"data": {"name": "d"},
       "mark": {"type": "line", "color": "black", "strokeWidth": 1.2},
       "encoding": {
         "x": {"field": "v", "type": "quantitative", "scale": {"domain": [-2, 2], "range": [511, 622], "nice": false, "zero": false},
           "axis": {"orient": "bottom", "values": [-2, 0, 2], "labelExpr": "datum.value == 0 ? '-0' : (datum.value < 0 ? '-' : '') + format(abs(datum.value), 'd')", "labelPadding": 5, "title": "‰ (V-PDB)", "titleFontSize": 12, "titlePadding": 7}},
         "y": {"field": "age", "type": "quantitative", "scale": {"domain": [400, 1500], "nice": false, "zero": false}, "axis": null},
         "order": {"field": "age", "type": "quantitative"}}},
      {"data": {"name": "d"},
       "mark": {"type": "circle", "size": 26, "opacity": 1},
       "encoding": {
         "x": {"field": "v", "type": "quantitative", "scale": {"domain": [-2, 2], "range": [511, 622], "nice": false, "zero": false}, "axis": null},
         "y": {"field": "age", "type": "quantitative", "scale": {"domain": [400, 1500], "nice": false, "zero": false}, "axis": null},
         "color": {"field": "v", "type": "quantitative", "scale": {"domain": [-2, 1.9], "range": ["#0000ff", "#ff0000"], "interpolate": "rgb", "clamp": true}, "legend": null}}},
      {"data": {"name": "one"}, "mark": {"type": "rule", "color": "black", "strokeWidth": 1.6},
       "encoding": {
         "x": {"datum": 1.28, "type": "quantitative", "scale": {"domain": [-2, 2], "range": [511, 622], "nice": false, "zero": false}, "axis": null},
         "y": {"datum": 501, "type": "quantitative", "scale": {"domain": [400, 1500], "nice": false, "zero": false}, "axis": null},
         "x2": {"datum": 1.96}, "y2": {"datum": 966}}},
      {"data": {"name": "one"}, "mark": {"type": "point", "shape": "M0,0L0.7,2L0,1.6L-0.7,2Z", "filled": true, "color": "black", "opacity": 1, "size": 196, "angle": 6.9},
       "encoding": {
         "x": {"datum": 1.96, "type": "quantitative", "scale": {"domain": [-2, 2], "range": [511, 622], "nice": false, "zero": false}, "axis": null},
         "y": {"datum": 966, "type": "quantitative", "scale": {"domain": [400, 1500], "nice": false, "zero": false}, "axis": null}}},
      {"data": {"name": "one"}, "mark": {"type": "text", "text": "Increasing Aridity", "fontSize": 15, "angle": 285, "align": "center", "baseline": "middle", "color": "black"},
       "encoding": {
         "x": {"datum": 1.96, "type": "quantitative", "scale": {"domain": [-2, 2], "range": [511, 622], "nice": false, "zero": false}, "axis": null},
         "y": {"datum": 718, "type": "quantitative", "scale": {"domain": [400, 1500], "nice": false, "zero": false}, "axis": null}}},
      {"data": {"name": "one"}, "mark": {"type": "text", "text": "d", "fontSize": 22, "fontWeight": "bold", "align": "center", "baseline": "alphabetic", "color": "black"},
       "encoding": {
         "x": {"datum": 0, "type": "quantitative", "scale": {"domain": [-2, 2], "range": [511, 622], "nice": false, "zero": false}, "axis": null},
         "y": {"datum": 1768, "type": "quantitative", "scale": {"domain": [400, 1500], "nice": false, "zero": false}, "axis": null}}}
    ]
  },
  {
    "resolve": {"axis": {"x": "independent"}},
    "layer": [
      {"data": {"name": "one"}, "mark": {"type": "rule", "color": "black", "strokeWidth": 2},
       "encoding": {"x": {"datum": -4.5, "type": "quantitative", "scale": {"domain": [-4.5, -3], "range": [644, 756], "nice": false, "zero": false},
         "axis": {"orient": "top", "values": [-4.5, -4, -3.5, -3], "labels": false, "title": ["Yok Balum", "Speleothem", "δ¹⁸O"], "titleFontSize": 15, "titleLineHeight": 18, "titlePadding": 7}}}},
      {"data": {"name": "e"},
       "mark": {"type": "line", "strokeWidth": 8, "strokeCap": "round", "strokeJoin": "round",
                "stroke": {"gradient": "linear", "x1": 0, "y1": 0, "x2": 1, "y2": 0, "stops": [{"offset": 0, "color": "#0000ff"}, {"offset": 1, "color": "#ff0000"}]}},
       "encoding": {
         "x": {"field": "v", "type": "quantitative", "scale": {"domain": [-4.5, -3], "range": [644, 756], "nice": false, "zero": false},
           "axis": {"orient": "bottom", "values": [-4.5, -4, -3.5, -3], "labelExpr": "'-' + format(abs(datum.value), '.1f')", "labelOffset": {"condition": {"test": "datum.value > -3.1", "value": -4}, "value": 0}, "labelPadding": 5, "title": "‰ (V-PDB)", "titleFontSize": 12, "titlePadding": 7}},
         "y": {"field": "age", "type": "quantitative", "scale": {"domain": [400, 1500], "nice": false, "zero": false}, "axis": null},
         "order": {"field": "age", "type": "quantitative"}}},
      {"data": {"name": "one"}, "mark": {"type": "rule", "color": "black", "strokeWidth": 1.6},
       "encoding": {
         "x": {"datum": -3.829, "type": "quantitative", "scale": {"domain": [-4.5, -3], "range": [644, 756], "nice": false, "zero": false}, "axis": null},
         "y": {"datum": 536, "type": "quantitative", "scale": {"domain": [400, 1500], "nice": false, "zero": false}, "axis": null},
         "x2": {"datum": -2.911}, "y2": {"datum": 1057}}},
      {"data": {"name": "one"}, "mark": {"type": "point", "shape": "M0,0L0.7,2L0,1.6L-0.7,2Z", "filled": true, "color": "black", "opacity": 1, "size": 196, "angle": 21.1},
       "encoding": {
         "x": {"datum": -2.911, "type": "quantitative", "scale": {"domain": [-4.5, -3], "range": [644, 756], "nice": false, "zero": false}, "axis": null},
         "y": {"datum": 1057, "type": "quantitative", "scale": {"domain": [400, 1500], "nice": false, "zero": false}, "axis": null}}},
      {"data": {"name": "one"}, "mark": {"type": "text", "text": "Increasing Aridity", "fontSize": 15, "angle": 290, "align": "center", "baseline": "middle", "color": "black"},
       "encoding": {
         "x": {"datum": -3.318, "type": "quantitative", "scale": {"domain": [-4.5, -3], "range": [644, 756], "nice": false, "zero": false}, "axis": null},
         "y": {"datum": 763, "type": "quantitative", "scale": {"domain": [400, 1500], "nice": false, "zero": false}, "axis": null}}},
      {"data": {"name": "one"}, "mark": {"type": "text", "text": "e", "fontSize": 22, "fontWeight": "bold", "align": "center", "baseline": "alphabetic", "color": "black"},
       "encoding": {
         "x": {"datum": -3.748, "type": "quantitative", "scale": {"domain": [-4.5, -3], "range": [644, 756], "nice": false, "zero": false}, "axis": null},
         "y": {"datum": 1768, "type": "quantitative", "scale": {"domain": [400, 1500], "nice": false, "zero": false}, "axis": null}}}
    ]
  },
  {
    "resolve": {"axis": {"x": "independent"}},
    "layer": [
      {"data": {"name": "one"}, "mark": {"type": "rule", "color": "black", "strokeWidth": 2},
       "encoding": {"x": {"datum": 0.23, "type": "quantitative", "scale": {"domain": [0.08, 0.23], "range": [889, 776], "nice": false, "zero": false},
         "axis": {"orient": "top", "values": [0.23, 0.18, 0.13, 0.08], "labels": false, "title": ["Cariaco Basin", "Titanium Content"], "titleFontSize": 15, "titleLineHeight": 18, "titlePadding": 7}}}},
      {"data": {"name": "f"},
       "mark": {"type": "line", "color": "black", "strokeWidth": 1.2},
       "encoding": {
         "x": {"field": "v", "type": "quantitative", "scale": {"domain": [0.08, 0.23], "range": [889, 776], "nice": false, "zero": false},
           "axis": {"orient": "bottom", "values": [0.23, 0.18, 0.13, 0.08], "labelExpr": "format(datum.value, '.2f')", "labelOffset": {"condition": {"test": "datum.value > 0.22", "value": 5}, "value": 0}, "labelPadding": 5, "title": "Percent", "titleFontSize": 12, "titlePadding": 7}},
         "y": {"field": "age", "type": "quantitative", "scale": {"domain": [400, 1500], "nice": false, "zero": false}, "axis": null},
         "order": {"field": "age", "type": "quantitative"}}},
      {"data": {"name": "f"},
       "mark": {"type": "circle", "size": 30, "opacity": 1},
       "encoding": {
         "x": {"field": "v", "type": "quantitative", "scale": {"domain": [0.08, 0.23], "range": [889, 776], "nice": false, "zero": false}, "axis": null},
         "y": {"field": "age", "type": "quantitative", "scale": {"domain": [400, 1500], "nice": false, "zero": false}, "axis": null},
         "color": {"field": "v", "type": "quantitative", "scale": {"domain": [0.37, 0.09], "range": ["#0000ff", "#ff0000"], "interpolate": "rgb", "clamp": true}, "legend": null}}},
      {"data": {"name": "one"}, "mark": {"type": "rule", "color": "black", "strokeWidth": 1.6},
       "encoding": {
         "x": {"datum": 0.1688, "type": "quantitative", "scale": {"domain": [0.08, 0.23], "range": [889, 776], "nice": false, "zero": false}, "axis": null},
         "y": {"datum": 477, "type": "quantitative", "scale": {"domain": [400, 1500], "nice": false, "zero": false}, "axis": null},
         "x2": {"datum": 0.111}, "y2": {"datum": 934}}},
      {"data": {"name": "one"}, "mark": {"type": "point", "shape": "M0,0L0.7,2L0,1.6L-0.7,2Z", "filled": true, "color": "black", "opacity": 1, "size": 196, "angle": 15.6},
       "encoding": {
         "x": {"datum": 0.111, "type": "quantitative", "scale": {"domain": [0.08, 0.23], "range": [889, 776], "nice": false, "zero": false}, "axis": null},
         "y": {"datum": 934, "type": "quantitative", "scale": {"domain": [400, 1500], "nice": false, "zero": false}, "axis": null}}},
      {"data": {"name": "one"}, "mark": {"type": "text", "text": "Increasing Aridity", "fontSize": 15, "angle": 288, "align": "center", "baseline": "middle", "color": "black"},
       "encoding": {
         "x": {"datum": 0.1312, "type": "quantitative", "scale": {"domain": [0.08, 0.23], "range": [889, 776], "nice": false, "zero": false}, "axis": null},
         "y": {"datum": 693, "type": "quantitative", "scale": {"domain": [400, 1500], "nice": false, "zero": false}, "axis": null}}},
      {"data": {"name": "one"}, "mark": {"type": "text", "text": "f", "fontSize": 22, "fontWeight": "bold", "align": "center", "baseline": "alphabetic", "color": "black"},
       "encoding": {
         "x": {"datum": 0.1665, "type": "quantitative", "scale": {"domain": [0.08, 0.23], "range": [889, 776], "nice": false, "zero": false}, "axis": null},
         "y": {"datum": 1768, "type": "quantitative", "scale": {"domain": [400, 1500], "nice": false, "zero": false}, "axis": null}}}
    ]
  },
  {
    "resolve": {"axis": {"x": "independent"}},
    "layer": [
      {"data": {"name": "g"},
       "mark": {"type": "rect", "color": "#ffd700"},
       "encoding": {
         "x": {"field": "n", "type": "quantitative", "scale": {"domain": [0, 15], "range": [911, 1022], "nice": false, "zero": false},
           "axis": {"orient": "bottom", "values": [0, 5, 10, 15], "format": "d", "labelPadding": 5, "title": null}},
         "x2": {"datum": 0},
         "y": {"field": "age", "type": "quantitative", "scale": {"domain": [400, 1500], "nice": false, "zero": false}, "axis": null},
         "y2": {"field": "age2"}}},
      {"data": {"name": "one"}, "mark": {"type": "rule", "color": "black", "strokeWidth": 2},
       "encoding": {"x": {"datum": 0, "type": "quantitative", "scale": {"domain": [0, 15], "range": [911, 1022], "nice": false, "zero": false},
         "axis": {"orient": "top", "values": [0, 5, 7.5, 10, 15], "labels": false, "title": ["Antillean", "Archaeological", "Sites with Evidence", "of Maize"], "titleFontSize": 15, "titleLineHeight": 18, "titlePadding": 7}}}},
      {"data": {"name": "one"}, "mark": {"type": "rule", "color": "black", "strokeWidth": 1.6},
       "encoding": {
         "x": {"datum": 5.82, "type": "quantitative", "scale": {"domain": [0, 15], "range": [911, 1022], "nice": false, "zero": false}, "axis": null},
         "y": {"datum": 452, "type": "quantitative", "scale": {"domain": [400, 1500], "nice": false, "zero": false}, "axis": null},
         "x2": {"datum": 15.0}, "y2": {"datum": 1012}}},
      {"data": {"name": "one"}, "mark": {"type": "point", "shape": "M0,0L0.7,2L0,1.6L-0.7,2Z", "filled": true, "color": "black", "opacity": 1, "size": 196, "angle": 19.8},
       "encoding": {
         "x": {"datum": 15.0, "type": "quantitative", "scale": {"domain": [0, 15], "range": [911, 1022], "nice": false, "zero": false}, "axis": null},
         "y": {"datum": 1012, "type": "quantitative", "scale": {"domain": [400, 1500], "nice": false, "zero": false}, "axis": null}}},
      {"data": {"name": "one"}, "mark": {"type": "text", "text": ["Increasing Prominence of", "Maize Agriculture in the", "Caribbean Antilles"], "fontSize": 13, "lineHeight": 15, "angle": 297, "align": "center", "baseline": "middle", "color": "black"},
       "encoding": {
         "x": {"datum": 13.2, "type": "quantitative", "scale": {"domain": [0, 15], "range": [911, 1022], "nice": false, "zero": false}, "axis": null},
         "y": {"datum": 649, "type": "quantitative", "scale": {"domain": [400, 1500], "nice": false, "zero": false}, "axis": null}}},
      {"data": {"name": "one"}, "mark": {"type": "text", "text": "g", "fontSize": 22, "fontWeight": "bold", "align": "center", "baseline": "alphabetic", "color": "black"},
       "encoding": {
         "x": {"datum": 6.22, "type": "quantitative", "scale": {"domain": [0, 15], "range": [911, 1022], "nice": false, "zero": false}, "axis": null},
         "y": {"datum": 1768, "type": "quantitative", "scale": {"domain": [400, 1500], "nice": false, "zero": false}, "axis": null}}},
      {"data": {"name": "one"}, "mark": {"type": "text", "text": "‘Late TCD’", "fontSize": 15, "align": "left", "baseline": "middle", "color": "black"},
       "encoding": {
         "x": {"datum": 18.3, "type": "quantitative", "scale": {"domain": [0, 15], "range": [911, 1022], "nice": false, "zero": false}, "axis": null},
         "y": {"datum": 1007, "type": "quantitative", "scale": {"domain": [400, 1500], "nice": false, "zero": false}, "axis": null}}},
      {"data": {"name": "one"}, "mark": {"type": "text", "text": "‘Early TCD’", "fontSize": 15, "align": "left", "baseline": "middle", "color": "black"},
       "encoding": {
         "x": {"datum": 17.75, "type": "quantitative", "scale": {"domain": [0, 15], "range": [911, 1022], "nice": false, "zero": false}, "axis": null},
         "y": {"datum": 822, "type": "quantitative", "scale": {"domain": [400, 1500], "nice": false, "zero": false}, "axis": null}}}
    ]
  }
],
"resolve": {"scale": {"x": "independent", "color": "independent"}}
}
